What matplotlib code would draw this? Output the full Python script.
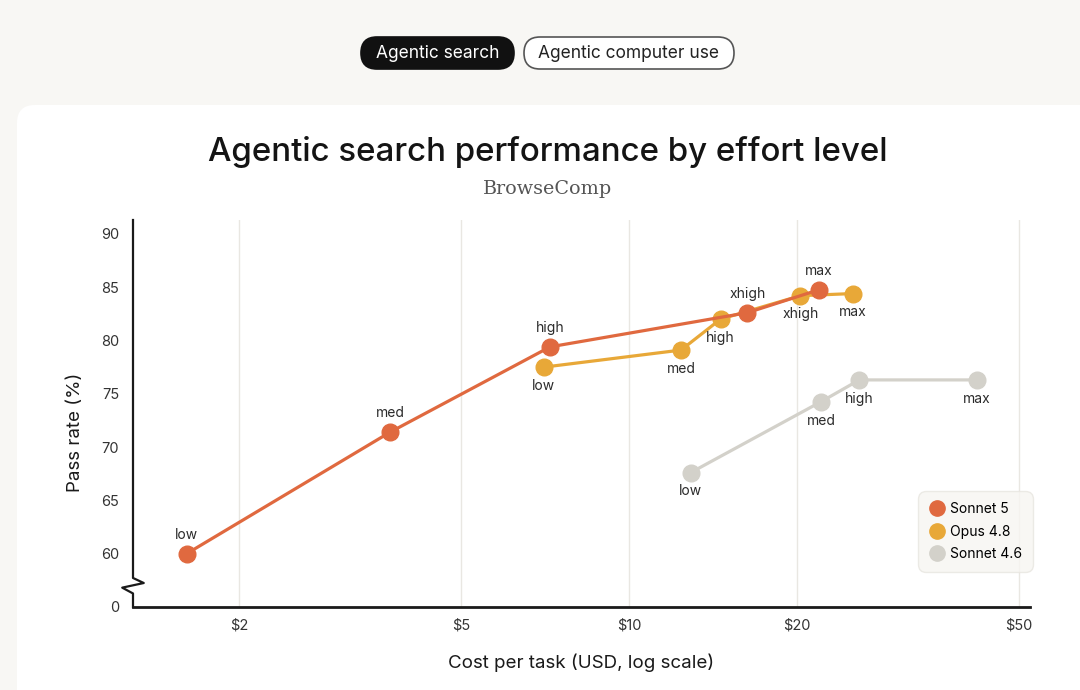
import numpy as np
import matplotlib.pyplot as plt
from matplotlib.patches import FancyBboxPatch
from matplotlib.lines import Line2D

plt.rcParams['font.family'] = ['Inter', 'DejaVu Sans']

# data: cost per task (USD) and pass rate (%)
levels_s5 = ['low', 'med', 'high', 'xhigh', 'max']
cost_s5 = [1.61, 3.73, 7.22, 16.3, 21.9]
pass_s5 = [60.0, 71.4, 79.4, 82.6, 84.75]

levels_o48 = ['low', 'med', 'high', 'xhigh', 'max']
cost_o48 = [7.04, 12.4, 14.6, 20.3, 25.2]
pass_o48 = [77.5, 79.1, 82.0, 84.2, 84.4]

levels_s46 = ['low', 'med', 'high', 'max']
cost_s46 = [12.9, 22.1, 25.9, 42.1]
pass_s46 = [67.6, 74.25, 76.3, 76.3]

x_ticks = [2, 5, 10, 20, 50]
x_labels = ['$2', '$5', '$10', '$20', '$50']
y_ticks = [55, 60, 65, 70, 75, 80, 85, 90]
y_labels = ['0', '60', '65', '70', '75', '80', '85', '90']

c_s5 = '#E0693F'
c_o48 = '#E8A838'
c_s46 = '#D3D1CA'
txt = '#2b2b2b'

fig = plt.figure(figsize=(10.8, 6.9), dpi=100)
fig.patch.set_facecolor('#F8F7F4')

# background layer in pixel units
bg = fig.add_axes([0, 0, 1, 1], zorder=-1)
bg.set_xlim(0, 1080)
bg.set_ylim(690, 0)
bg.axis('off')

bg.add_patch(FancyBboxPatch((17, 105), 1200, 700,
                            boxstyle='round,pad=0,rounding_size=18',
                            facecolor='white', edgecolor='none'))

def pill(x0, x1, label, filled):
    y0, y1 = 37, 69
    bg.add_patch(FancyBboxPatch((x0, y0), x1 - x0, y1 - y0,
                                boxstyle='round,pad=0,rounding_size=16',
                                facecolor='#111111' if filled else 'white',
                                edgecolor='#111111' if filled else '#555555',
                                linewidth=1.2))
    bg.text((x0 + x1) / 2, (y0 + y1) / 2 + 1, label, ha='center', va='center',
            fontsize=12.5, color='white' if filled else '#222222')

pill(361, 514, 'Agentic search', True)
pill(524, 734, 'Agentic computer use', False)

bg.text(548, 152, 'Agentic search performance by effort level',
        ha='center', va='center', fontsize=23.8, fontweight='medium', color='#141414')
bg.text(548, 189, 'BrowseComp', ha='center', va='center',
        fontsize=13.8, color='#555555', family='DejaVu Serif')

ax = fig.add_axes([133 / 1080, 83 / 690, (1030 - 133) / 1080, (607 - 220) / 690],
                  zorder=2)
ax.set_facecolor('none')
ax.set_xscale('log')
ax.set_xlim(1.29, 52.4)
ax.set_ylim(55, 91.3)

ax.set_xticks(x_ticks)
ax.set_xticklabels(x_labels)
ax.minorticks_off()
ax.set_yticks(y_ticks)
ax.set_yticklabels(y_labels)
ax.tick_params(axis='both', length=0, labelsize=10.5, labelcolor='#333333')
ax.tick_params(axis='x', pad=8)
ax.tick_params(axis='y', pad=10)
ax.grid(axis='x', color='#E9E7E2', linewidth=1)
ax.grid(axis='y', visible=False)
for s in ['top', 'right', 'left']:
    ax.spines[s].set_visible(False)
ax.spines['bottom'].set_linewidth(2)
ax.spines['bottom'].set_color('#1a1a1a')

# left axis with a zigzag break
ax.plot([0, 0, 0.012, -0.012, 0.0, 0], [1, 0.075, 0.062, 0.05, 0.035, 0],
        transform=ax.transAxes, color='#1a1a1a', lw=1.6, clip_on=False)

ax.set_xlabel('Cost per task (USD, log scale)', fontsize=13.5, color='#1a1a1a')
ax.xaxis.set_label_coords(0.5, -0.12)
ax.set_ylabel('Pass rate (%)', fontsize=13.5, color='#1a1a1a')
ax.yaxis.set_label_coords(-0.055, 0.45)

def series(cost, rate, levels, color, pos, name):
    ax.plot(cost, rate, '-o', color=color, lw=2.3, markersize=12, zorder=3,
            label=name)
    for c, r, lv, p in zip(cost, rate, levels, pos):
        dy = 13.5 if p == 'above' else -13.5
        ax.annotate(lv, (c, r), xytext=(0, dy), textcoords='offset points',
                    ha='center', va='center', fontsize=10, color=txt, zorder=5)

series(cost_s46, pass_s46, levels_s46, c_s46, ['below'] * 4, 'Sonnet 4.6')
series(cost_o48, pass_o48, levels_o48, c_o48, ['below'] * 5, 'Opus 4.8')
series(cost_s5, pass_s5, levels_s5, c_s5, ['above'] * 5, 'Sonnet 5')

handles = [Line2D([], [], marker='o', ls='none', color=c, markersize=11)
           for c in [c_s5, c_o48, c_s46]]
leg = ax.legend(handles, ['Sonnet 5', 'Opus 4.8', 'Sonnet 4.6'],
                loc='lower right', bbox_to_anchor=(1.0033, 0.0904),
                borderaxespad=0, fontsize=10,
                frameon=True, fancybox=True, handletextpad=0.3,
                borderpad=0.8, labelspacing=0.6, handlelength=1.2)
leg.get_frame().set_facecolor('#F7F6F2')
leg.get_frame().set_edgecolor('#E8E6E0')
leg.get_frame().set_boxstyle('round,pad=0,rounding_size=0.6')

fig.savefig('out.png', dpi=100)
